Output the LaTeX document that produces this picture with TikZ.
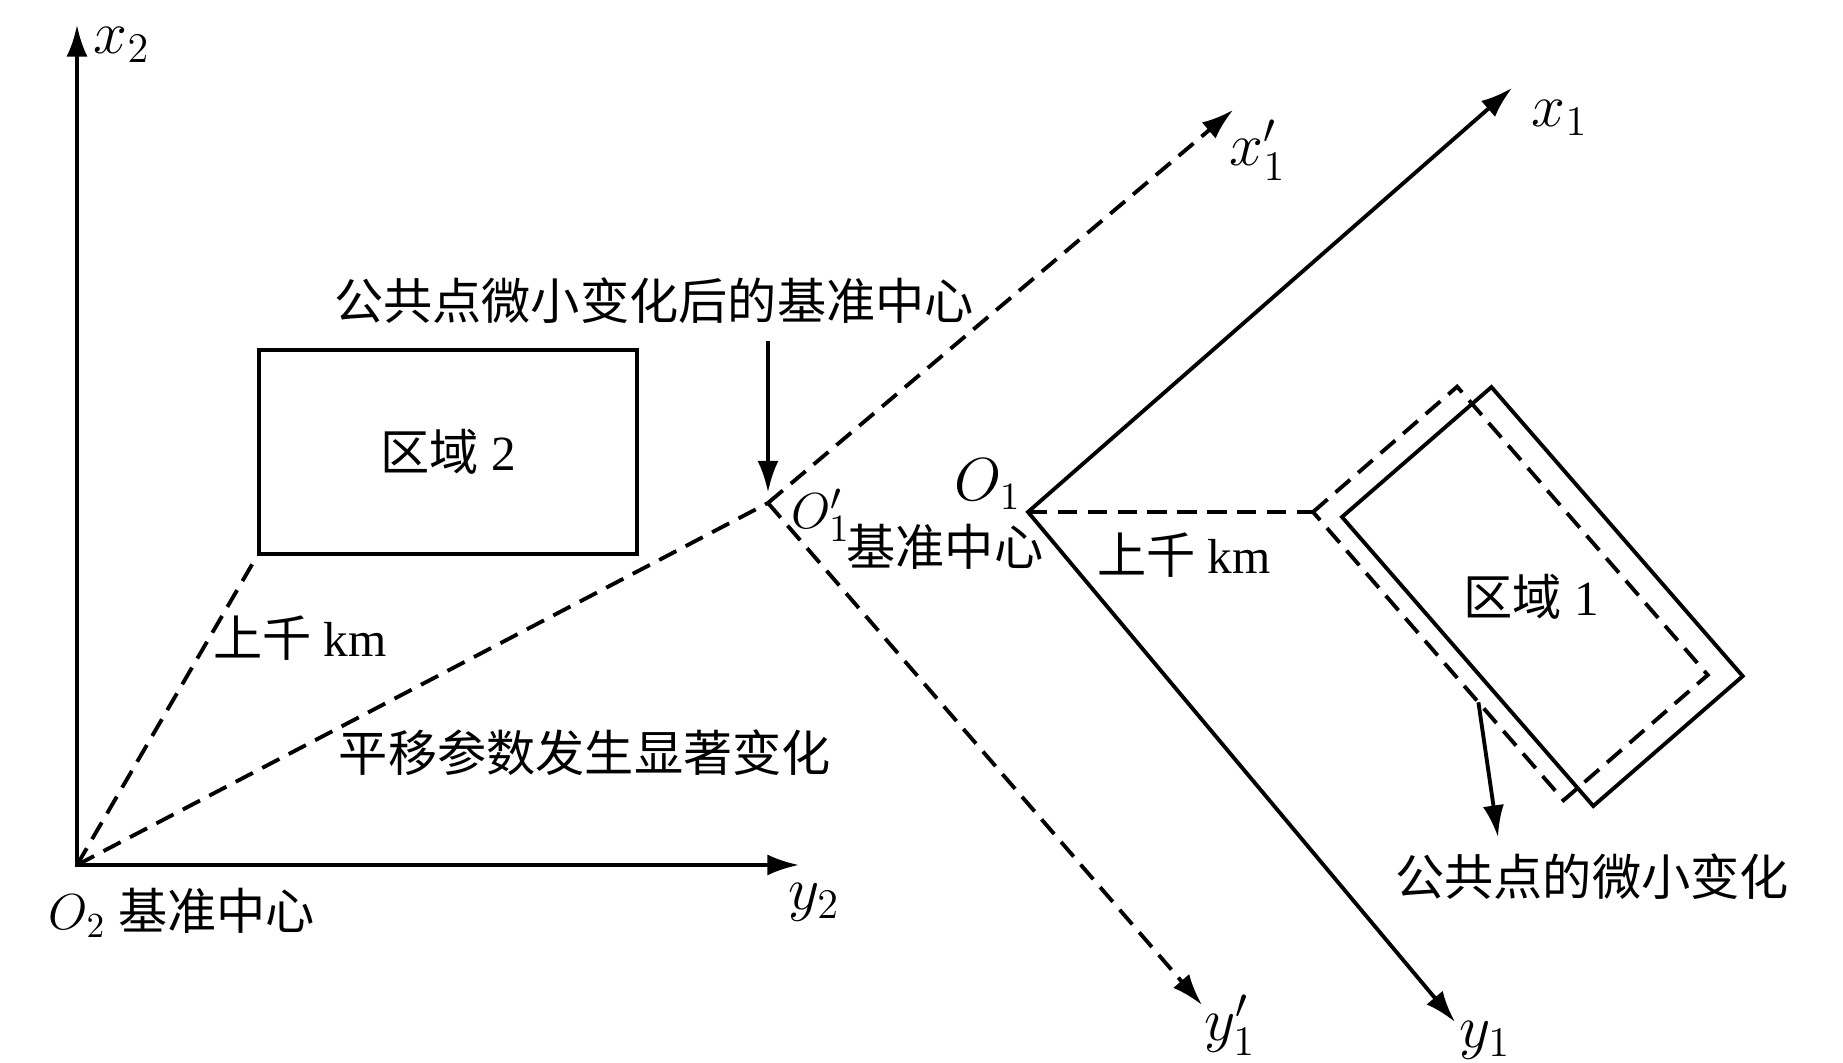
\documentclass[tikz,border=0pt]{standalone}
\usepackage{fontspec}
\setmainfont{Liberation Serif}
\newfontfamily\cjk{Noto Sans CJK SC}
\usetikzlibrary{arrows.meta, calc}
\tikzset{
    axis/.style={line width=1.1pt, -{Latex[length=9pt, width=6pt]}},
    daxis/.style={axis, dash pattern=on 5.5pt off 3pt},
    dline/.style={line width=1.1pt, dash pattern=on 5.5pt off 3pt},
    region/.style={draw, line width=1.1pt},
    txt/.style={font=\fontsize{14}{16}\selectfont, inner sep=0pt},
    axlabel/.style={font=\fontsize{17}{19}\selectfont, inner sep=0pt}
}

\begin{document}
\begin{tikzpicture}
            \useasboundingbox (-0.77,-1.98) rectangle (17.66,8.65);

            % frame 2 (reference centre)
            \coordinate (O2) at (0,0);
            \coordinate (x2) at (0,8.40);
            \coordinate (y2) at (7.22,0);
            \draw[line width=1.1pt, {Latex[length=9pt, width=6pt]}-{Latex[length=9pt, width=6pt]}] (x2) -- (O2) -- (y2);
            \node[axlabel] (lx2) at (0.45,8.20) {$x_2$};
            \node[axlabel] (ly2) at (7.37,-0.37) {$y_2$};
            \node[txt] (lO2) at (1.05,-0.48) {$O_2$ {\cjk 基准中心}};

            % region 2
            \node[region, txt, minimum width=3.78cm, minimum height=2.04cm] (reg2) at (3.71,4.13) {{\cjk 区域} 2};

            % frame 1 after the small change of the common points
            \coordinate (O1p) at (6.91,3.62);
            \coordinate (x1p) at (11.56,7.55);
            \coordinate (y1p) at (11.25,-1.40);
            \draw[daxis] (O1p) -- (x1p);
            \draw[daxis] (O1p) -- (y1p);
            \node[axlabel] (lx1p) at (11.81,7.15) {$x_1'$};
            \node[axlabel] (ly1p) at (11.53,-1.60) {$y_1'$};
            \node[axlabel, font=\fontsize{15}{17}\selectfont] (lO1p) at (7.44,3.50) {$O_1'$};
            \node[txt] (lbc1) at (8.68,3.18) {\cjk 基准中心};

            % frame 1
            \coordinate (O1) at (9.51,3.53);
            \coordinate (x1) at (14.35,7.77);
            \coordinate (y1) at (13.78,-1.57);
            \draw[line width=1.1pt, {Latex[length=9pt, width=6pt]}-{Latex[length=9pt, width=6pt]}] (x1) -- (O1) -- (y1);
            \node[axlabel] (lx1) at (14.83,7.47) {$x_1$};
            \node[axlabel] (ly1) at (14.08,-1.75) {$y_1$};
            \node[axlabel, font=\fontsize{16}{18}\selectfont] (lO1) at (9.11,3.81) {$O_1$};

            % region 1 and its shifted copy
            \coordinate (r1L) at (12.65,3.48);
            \coordinate (d1L) at (12.36,3.53);
            \draw[region] (r1L) -- ++(41:1.98) -- ++(-49:3.83) -- ++(221:1.98) -- cycle;
            \draw[dline] (d1L) -- ++(41:1.91) -- ++(-49:3.82) -- ++(221:1.91) -- cycle;
            \coordinate (d1B) at ($(d1L)+(-49:3.82)$);
            \node[txt] (lreg1) at (14.54,2.68) {{\cjk 区域} 1};

            % connections
            \draw[dline] (O2) -- (reg2.south west);
            \draw[dline] (O2) -- (O1p);
            \draw[dline] (O1) -- (d1L);
            \node[txt] (lkm1) at (2.23,2.27) {{\cjk 上千} km};
            \node[txt] (lkm2) at (11.07,3.10) {{\cjk 上千} km};
            \node[txt] (lshift) at (5.08,1.12) {\cjk 平移参数发生显著变化};

            % pointers
            \node[txt] (lnew) at (5.77,5.64) {\cjk 公共点微小变化后的基准中心};
            \coordinate (ctop) at (6.91,5.24);
            \draw[axis, shorten >=3pt] (ctop) -- (O1p);
            \node[txt] (lcp) at (15.15,-0.12) {\cjk 公共点的微小变化};
            \coordinate (cp) at ($(d1L)!0.66!(d1B)$);
            \coordinate (cpend) at (14.21,0.28);
            \draw[axis] (cp) -- (cpend);
        \end{tikzpicture}
\end{document}
